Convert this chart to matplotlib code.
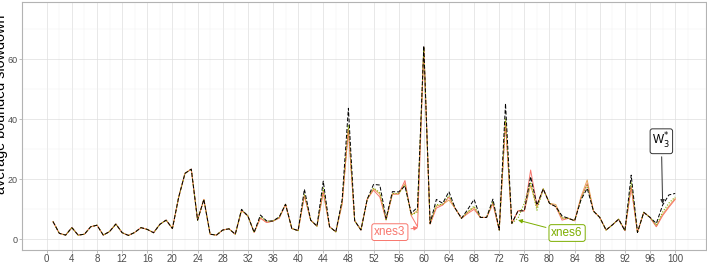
import matplotlib
matplotlib.use("Agg")
import matplotlib.pyplot as plt
import numpy as np

plt.rcParams['font.family'] = ['Liberation Sans', 'DejaVu Sans']

# job index 1..100
jobs = list(range(1, 101))

w3 = [5.8, 1.9, 1.3, 3.8, 1.3, 1.6, 4.1, 4.6, 1.3, 2.5,
      5.0, 2.1, 1.2, 2.2, 3.8, 3.2, 2.1, 4.9, 6.3, 3.5,
      14.0, 21.9, 23.3, 6.3, 13.2, 1.6, 1.3, 3.0, 3.4, 1.6,
      9.9, 7.7, 2.2, 8.0, 6.0, 6.0, 7.4, 11.6, 3.5, 2.8,
      16.6, 6.3, 4.3, 19.3, 4.1, 2.4, 13.0, 43.6, 6.1, 3.0,
      13.3, 18.2, 18.0, 6.9, 15.8, 15.7, 17.7, 8.6, 10.6, 64.4,
      5.2, 13.2, 11.9, 15.8, 10.2, 6.9, 9.9, 13.2, 7.2, 7.2,
      13.3, 3.0, 45.2, 5.2, 9.4, 9.4, 20.8, 11.3, 16.7, 11.9,
      10.8, 7.7, 6.9, 6.1, 13.0, 16.9, 9.3, 7.2, 3.0, 4.7,
      6.6, 2.8, 21.3, 2.2, 8.9, 7.2, 5.2, 11.3, 14.7, 15.2]

xnes3 = [5.8, 1.9, 1.3, 3.8, 1.3, 1.6, 4.1, 4.6, 1.3, 2.5,
         5.0, 2.1, 1.2, 2.2, 3.8, 3.2, 2.1, 4.9, 6.3, 3.5,
         14.0, 21.9, 23.3, 6.3, 13.2, 1.6, 1.3, 3.0, 3.4, 1.6,
         9.5, 7.7, 2.2, 7.0, 5.5, 6.0, 7.0, 11.6, 3.5, 2.8,
         14.5, 6.3, 4.3, 16.0, 4.1, 2.4, 12.0, 36.5, 6.1, 3.0,
         13.3, 16.3, 14.0, 6.3, 15.0, 15.0, 19.5, 7.8, 4.1, 64.0,
         5.0, 10.3, 11.3, 14.0, 10.2, 6.9, 8.5, 9.9, 7.2, 7.2,
         11.8, 3.0, 39.0, 5.2, 9.4, 9.4, 23.0, 11.3, 16.7, 11.9,
         10.8, 6.3, 6.9, 6.1, 13.5, 18.5, 9.3, 7.2, 3.0, 4.7,
         6.6, 2.8, 17.4, 2.2, 8.9, 7.2, 4.1, 7.8, 10.6, 13.2]

xnes6 = [5.8, 1.9, 1.3, 3.8, 1.3, 1.6, 4.1, 4.6, 1.3, 2.5,
         5.0, 2.1, 1.2, 2.2, 3.8, 3.2, 2.1, 4.9, 6.3, 3.5,
         14.0, 21.9, 23.3, 6.3, 13.2, 1.6, 1.3, 3.0, 3.4, 1.6,
         9.7, 7.7, 2.2, 7.5, 6.0, 6.0, 7.2, 11.6, 3.5, 2.8,
         15.0, 6.3, 4.3, 17.0, 4.1, 2.4, 12.5, 38.0, 6.1, 3.0,
         13.3, 17.0, 15.5, 6.5, 15.2, 15.2, 18.0, 8.0, 9.0, 64.0,
         5.1, 11.5, 11.5, 14.5, 10.2, 6.9, 9.0, 11.0, 7.2, 7.2,
         12.5, 3.0, 40.0, 5.2, 7.0, 12.0, 19.0, 9.6, 16.7, 11.9,
         10.8, 7.0, 6.9, 6.1, 13.2, 18.0, 9.3, 7.2, 3.0, 4.7,
         6.6, 2.8, 19.0, 2.2, 8.9, 7.2, 4.6, 9.0, 12.0, 14.0]

other = [5.8, 1.9, 1.3, 3.8, 1.3, 1.6, 4.1, 4.6, 1.3, 2.5,
         5.0, 2.1, 1.2, 2.2, 3.8, 3.2, 2.1, 4.9, 6.3, 3.5,
         14.0, 21.9, 23.3, 6.3, 13.2, 1.6, 1.3, 3.0, 3.4, 1.6,
         9.5, 7.7, 2.2, 7.0, 5.5, 6.0, 7.0, 11.6, 3.5, 2.8,
         14.5, 6.3, 4.3, 15.5, 4.1, 2.4, 11.5, 37.0, 6.1, 3.0,
         13.3, 16.8, 15.0, 6.5, 15.0, 15.0, 18.5, 8.0, 9.5, 63.5,
         5.0, 11.0, 11.5, 13.0, 10.2, 6.9, 9.0, 10.5, 7.2, 7.2,
         12.0, 3.0, 39.5, 5.2, 9.4, 9.4, 18.0, 10.5, 16.7, 11.9,
         11.5, 7.0, 6.9, 6.1, 14.0, 19.7, 9.3, 7.2, 3.0, 4.7,
         6.6, 2.8, 17.4, 2.2, 8.9, 7.2, 4.2, 8.2, 11.0, 13.5]

fig = plt.figure(figsize=(7.07, 2.63), dpi=100, facecolor='white')
ax = fig.add_axes([0.031, 0.049, 0.968, 0.943])

ax.plot(jobs, other, color='#E6A65A', linewidth=0.7)
ax.plot(jobs, xnes3, color='#F8766D', linewidth=0.7)
ax.plot(jobs, xnes6, color='#7CAE00', linewidth=0.8, linestyle=(0, (1, 1.5)))
ax.plot(jobs, w3, color='black', linewidth=0.7, linestyle=(0, (4, 2)))

ax.set_xlim(-3.95, 104.95)
ax.set_ylim(-3.7, 79)
ax.set_xticks(range(0, 101, 4))
ax.set_xticks(range(2, 103, 4), minor=True)
ax.set_yticks([0, 20, 40, 60])
ax.set_yticks([10, 30, 50, 70], minor=True)
ax.grid(which='major', color='#DEDEDE', linewidth=0.5)
ax.grid(which='minor', color='#EFEFEF', linewidth=0.35)
ax.set_axisbelow(True)
for s in ax.spines.values():
    s.set_color('#B3B3B3')
    s.set_linewidth(0.8)
ax.tick_params(which='major', colors='#B3B3B3', labelcolor='#4D4D4D',
               labelsize=7, length=2, width=0.6, pad=1)
ax.tick_params(axis='y', labelsize=6.5)
ax.tick_params(which='minor', length=0)

# y axis title placed by hand; like the reference it sits hard against the left edge
fig.text(1.5 / 707, 1 - 104 / 263, 'average bounded slowdown', rotation=90,
         fontsize=10.4, ha='center', va='center', color='black')

# labels with arrows
ax.annotate('xnes3', xy=(59.1, 3.8), xytext=(54.6, 2.3), color='#F8766D',
            fontsize=8.5, ha='center', va='center',
            bbox=dict(boxstyle='round,pad=0.2', fc='white', ec='#F8766D', lw=0.7),
            arrowprops=dict(arrowstyle='-|>', color='#F8766D', lw=0.7,
                            mutation_scale=6, shrinkB=0))
ax.annotate('xnes6', xy=(75.0, 6.3), xytext=(82.8, 2.0), color='#7CAE00',
            fontsize=8.5, ha='center', va='center',
            bbox=dict(boxstyle='round,pad=0.2', fc='white', ec='#7CAE00', lw=0.7),
            arrowprops=dict(arrowstyle='-|>', color='#7CAE00', lw=0.7,
                            mutation_scale=6, shrinkB=0))
ax.annotate('W$^{*}_{3}$', xy=(98.0, 11.7), xytext=(97.8, 32.6), color='black',
            fontsize=8.5, ha='center', va='center',
            bbox=dict(boxstyle='round,pad=0.2', fc='white', ec='#333333', lw=0.7),
            arrowprops=dict(arrowstyle='-|>', color='#333333', lw=0.7,
                            mutation_scale=6, shrinkB=0))

fig.savefig('out.png', dpi=100)
